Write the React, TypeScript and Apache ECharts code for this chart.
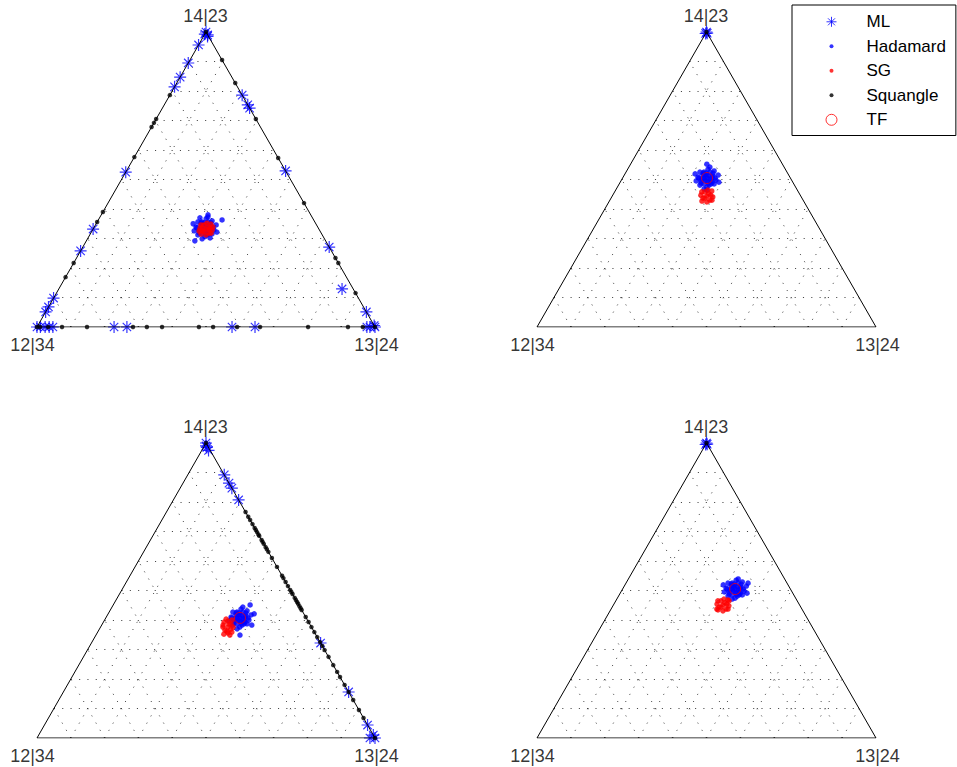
import React, { useEffect, useRef } from "react";
import * as echarts from "echarts";

// Ternary points are [share of 13|24, share of 14|23]; share of 12|34 = 1 - both.
const vertexLabels = ["12|34", "13|24", "14|23"];
const seriesNames = ["ML", "Hadamard", "SG", "Squangle", "TF"];

// ---------- Panel 1 ----------
const mlP1 = [
  [0, 1], [0, 0.993], [0.01, 0.99], [0.012, 0.985], [0, 0.956], [0, 0.895], [0, 0.847], [0, 0.814],
  [0, 0.525], [0, 0.332], [0, 0.258], [0, 0.098], [0, 0.068], [0, 0.051], [0, 0], [0.01, 0],
  [0.024, 0], [0.036, 0], [0.047, 0], [0.228, 0], [0.266, 0], [0.577, 0], [0.645, 0], [0.976, 0],
  [0.985, 0], [1, 0], [0.995, 0.005], [0.214, 0.786], [0.247, 0.753], [0.258, 0.742], [0.471, 0.529],
  [0.729, 0.271], [0.949, 0.051], [0.838, 0.129],
];
const hadamardP1 = [
  [0.329, 0.336], [0.316, 0.326], [0.343, 0.343], [0.31, 0.356], [0.351, 0.316], [0.301, 0.339],
  [0.359, 0.329], [0.344, 0.306], [0.317, 0.367], [0.32, 0.312], [0.338, 0.36], [0.298, 0.356],
  [0.36, 0.316], [0.302, 0.326], [0.357, 0.346], [0.339, 0.299], [0.319, 0.373], [0.312, 0.346],
  [0.346, 0.326], [0.321, 0.292], [0.366, 0.363], [0.316, 0.38], [0.287, 0.35], [0.371, 0.322],
  [0.361, 0.302], [0.297, 0.37],
  [0.327, 0.329], [0.332, 0.343], [0.318, 0.346], [0.34, 0.333], [0.32, 0.336], [0.324, 0.346],
  [0.334, 0.326], [0.342, 0.339], [0.316, 0.333], [0.341, 0.319], [0.318, 0.353], [0.351, 0.322],
  [0.309, 0.353], [0.338, 0.353], [0.32, 0.319], [0.328, 0.356], [0.33, 0.316], [0.353, 0.336],
  [0.305, 0.336], [0.347, 0.312],
];
const sgP1 = [
  [0.334, 0.332], [0.326, 0.325], [0.344, 0.335], [0.321, 0.346], [0.35, 0.318], [0.315, 0.335],
  [0.354, 0.329], [0.344, 0.312], [0.327, 0.352], [0.328, 0.315], [0.34, 0.349], [0.312, 0.346],
  [0.356, 0.318], [0.332, 0.325], [0.336, 0.339], [0.323, 0.335], [0.345, 0.329], [0.351, 0.339],
  [0.317, 0.325],
];
const squangleP1 = [
  [0, 1], [0, 0.786], [0, 0.705], [0, 0.692], [0, 0.678], [0, 0.576], [0, 0.39], [0, 0.356], [0, 0.217],
  [0, 0.169], [0.095, 0.905], [0.173, 0.827], [0.295, 0.705], [0.427, 0.573], [0.58, 0.42], [0.766, 0.234],
  [0.783, 0.217], [0.885, 0.115], [0, 0], [0.009, 0], [0.033, 0], [0.074, 0], [0.148, 0], [0.284, 0],
  [0.325, 0], [0.37, 0], [0.479, 0], [0.521, 0], [0.592, 0], [0.66, 0], [0.802, 0], [0.92, 0], [0.964, 0], [1, 0],
];
const tfP1 = [[0.333, 0.333]];

// ---------- Panel 2 ----------
const mlP2 = [[0, 1], [0.004, 0.996], [0, 0.995]];
const hadamardP2 = [
  [0.249, 0.505], [0.236, 0.495], [0.263, 0.512], [0.23, 0.525], [0.271, 0.485], [0.221, 0.508],
  [0.279, 0.498], [0.264, 0.474], [0.237, 0.535], [0.24, 0.481], [0.258, 0.529], [0.218, 0.525],
  [0.28, 0.485], [0.222, 0.495], [0.277, 0.515], [0.259, 0.468], [0.239, 0.542], [0.225, 0.552],
  [0.269, 0.464], [0.207, 0.519], [0.291, 0.491], [0.232, 0.515], [0.266, 0.495],
  [0.247, 0.498], [0.252, 0.512], [0.238, 0.515], [0.26, 0.502], [0.24, 0.505], [0.244, 0.515],
  [0.254, 0.495], [0.262, 0.508], [0.236, 0.502], [0.261, 0.488], [0.238, 0.522], [0.271, 0.491],
  [0.229, 0.522], [0.258, 0.522], [0.24, 0.488], [0.248, 0.525], [0.25, 0.485], [0.273, 0.505],
  [0.225, 0.505], [0.267, 0.481],
];
const sgP2 = [
  [0.279, 0.444], [0.271, 0.437], [0.289, 0.447], [0.266, 0.458], [0.295, 0.43], [0.26, 0.447],
  [0.298, 0.441], [0.289, 0.424], [0.272, 0.464], [0.273, 0.427], [0.285, 0.461], [0.257, 0.458],
  [0.301, 0.43], [0.277, 0.437], [0.281, 0.451],
];
const squangleP2 = [[0, 1]];
const tfP2 = [[0.249, 0.505]];

// ---------- Panel 3 ----------
const mlP3 = [
  [0, 1], [0.01, 0.985], [0.005, 0.99], [0.02, 0.975], [0.108, 0.892], [0.136, 0.864], [0.153, 0.847],
  [0.193, 0.807], [0.678, 0.322], [0.844, 0.156], [0.956, 0.044], [0.99, 0.01], [1, 0], [0.985, 0],
];
const hadamardP3 = [
  [0.397, 0.407], [0.384, 0.397], [0.411, 0.414], [0.378, 0.427], [0.419, 0.387], [0.369, 0.41],
  [0.427, 0.4], [0.412, 0.376], [0.385, 0.437], [0.388, 0.383], [0.406, 0.431], [0.366, 0.427],
  [0.428, 0.387], [0.37, 0.397], [0.425, 0.417], [0.407, 0.37], [0.387, 0.444], [0.405, 0.451],
  [0.426, 0.349], [0.444, 0.383], [0.38, 0.417], [0.414, 0.397], [0.432, 0.421],
  [0.395, 0.4], [0.4, 0.414], [0.386, 0.417], [0.408, 0.404], [0.388, 0.407], [0.392, 0.417],
  [0.402, 0.397], [0.41, 0.41], [0.384, 0.404], [0.409, 0.39], [0.386, 0.424], [0.419, 0.393],
  [0.377, 0.424], [0.406, 0.424], [0.388, 0.39], [0.396, 0.427], [0.398, 0.387], [0.421, 0.407],
  [0.373, 0.407], [0.415, 0.383],
];
const sgP3 = [
  [0.377, 0.376], [0.373, 0.366], [0.381, 0.386], [0.357, 0.393], [0.397, 0.359], [0.358, 0.403],
  [0.396, 0.349], [0.367, 0.396], [0.387, 0.356], [0.362, 0.376], [0.392, 0.376], [0.377, 0.352],
  [0.377, 0.4], [0.359, 0.383], [0.389, 0.369], [0.375, 0.386], [0.381, 0.362],
];
const squangleP3 = [
  [0, 1], [0.234, 0.766], [0.25, 0.75], [0.261, 0.739], [0.275, 0.725], [0.288, 0.712], [0.295, 0.705],
  [0.302, 0.698], [0.31, 0.69], [0.315, 0.685], [0.329, 0.671], [0.335, 0.665], [0.342, 0.658], [0.353, 0.647],
  [0.36, 0.64], [0.369, 0.631], [0.39, 0.61], [0.42, 0.58], [0.45, 0.55], [0.458, 0.542], [0.471, 0.529],
  [0.485, 0.515], [0.498, 0.502], [0.505, 0.495], [0.512, 0.488], [0.525, 0.475], [0.532, 0.468],
  [0.539, 0.461], [0.545, 0.455], [0.553, 0.447], [0.56, 0.44], [0.566, 0.434], [0.59, 0.41], [0.607, 0.393],
  [0.624, 0.376], [0.641, 0.359], [0.658, 0.342], [0.675, 0.325], [0.688, 0.312], [0.702, 0.298],
  [0.725, 0.275], [0.753, 0.247], [0.776, 0.224], [0.793, 0.207], [0.82, 0.18], [0.844, 0.156],
  [0.871, 0.129], [0.905, 0.095], [0.932, 0.068], [1, 0],
];
const tfP3 = [[0.397, 0.407]];

// ---------- Panel 4 ----------
const mlP4 = [[0, 1], [0.004, 0.996], [0, 0.995]];
const hadamardP4 = [
  [0.332, 0.505], [0.319, 0.495], [0.346, 0.512], [0.313, 0.525], [0.354, 0.485], [0.304, 0.508],
  [0.362, 0.498], [0.347, 0.474], [0.32, 0.535], [0.323, 0.481], [0.341, 0.529], [0.301, 0.525],
  [0.363, 0.485], [0.305, 0.495], [0.36, 0.515], [0.34, 0.471], [0.324, 0.539], [0.36, 0.525],
  [0.29, 0.519], [0.374, 0.491], [0.315, 0.515], [0.349, 0.495],
  [0.33, 0.498], [0.335, 0.512], [0.321, 0.515], [0.343, 0.502], [0.323, 0.505], [0.327, 0.515],
  [0.337, 0.495], [0.345, 0.508], [0.319, 0.502], [0.344, 0.488], [0.321, 0.522], [0.354, 0.491],
  [0.312, 0.522], [0.341, 0.522], [0.323, 0.488], [0.331, 0.525], [0.333, 0.485], [0.356, 0.505],
  [0.308, 0.505], [0.35, 0.481],
];
const sgP4 = [
  [0.323, 0.451], [0.315, 0.444], [0.333, 0.454], [0.31, 0.465], [0.339, 0.437], [0.304, 0.454],
  [0.342, 0.448], [0.333, 0.431], [0.316, 0.471], [0.317, 0.434], [0.329, 0.468], [0.301, 0.465],
  [0.345, 0.437], [0.321, 0.444], [0.325, 0.458], [0.334, 0.465], [0.312, 0.437],
];
const squangleP4 = [[0, 1]];
const tfP4 = [[0.332, 0.505]];

const panelData = [
  [mlP1, hadamardP1, sgP1, squangleP1, tfP1],
  [mlP2, hadamardP2, sgP2, squangleP2, tfP2],
  [mlP3, hadamardP3, sgP3, squangleP3, tfP3],
  [mlP4, hadamardP4, sgP4, squangleP4, tfP4],
];

const panelBoxes = [
  { left: 37, top: 32, width: 338, height: 295 },
  { left: 537, top: 32, width: 339, height: 295 },
  { left: 37, top: 443, width: 338, height: 295 },
  { left: 537, top: 443, width: 339, height: 295 },
];

const FONT = 'Arial, "Liberation Sans", Helvetica, sans-serif';
const BLUE = "#0000ff";
const RED = "#ff0000";

const toXY = (p: number[]) => [p[0] + p[1] / 2, p[1]];

const STAR = "path://M0,-5L0,5M-5,0L5,0M-3.5,-3.5L3.5,3.5M-3.5,3.5L3.5,-3.5";

const seriesStyles = [
  { symbol: STAR, symbolSize: 12, itemStyle: { color: BLUE, borderColor: BLUE, borderWidth: 1.2 } },
  { symbol: "circle", symbolSize: 5.5, itemStyle: { color: BLUE } },
  { symbol: "circle", symbolSize: 5.5, itemStyle: { color: RED } },
  { symbol: "circle", symbolSize: 4.5, itemStyle: { color: "#000" } },
  { symbol: "circle", symbolSize: 11, itemStyle: { color: "rgba(0,0,0,0)", borderColor: RED, borderWidth: 1 } },
];

const legendIcons = [
  "path://M0,0M44,14M14,2L14,12M9,7L19,7M10.5,3.5L17.5,10.5M10.5,10.5L17.5,3.5",
  "path://M0,0M44,14M16,7A2,2,0,1,1,12,7A2,2,0,1,1,16,7Z",
  "path://M0,0M44,14M16,7A2,2,0,1,1,12,7A2,2,0,1,1,16,7Z",
  "path://M0,0M44,14M16,7A2,2,0,1,1,12,7A2,2,0,1,1,16,7Z",
  "path://M0,0M44,14M19.5,7A5.5,5.5,0,1,1,8.5,7A5.5,5.5,0,1,1,19.5,7Z",
];

function gridSegments() {
  const segs: any[] = [];
  for (let i = 1; i < 10; i++) {
    const t = i / 10;
    segs.push({ coords: [toXY([0, t]), toXY([1 - t, t])] });
    segs.push({ coords: [toXY([t, 0]), toXY([t, 1 - t])] });
    segs.push({ coords: [toXY([1 - t, 0]), toXY([0, 1 - t])] });
  }
  return segs;
}

function buildOption() {
  const grid: any[] = [];
  const xAxis: any[] = [];
  const yAxis: any[] = [];
  const series: any[] = [];
  panelBoxes.forEach((b, k) => {
    grid.push({ left: b.left, top: b.top, width: b.width, height: b.height, containLabel: false });
    xAxis.push({ type: "value", gridIndex: k, min: 0, max: 1, show: false });
    yAxis.push({ type: "value", gridIndex: k, min: 0, max: 1, show: false });
    series.push({
      type: "lines",
      name: "grid" + k,
      coordinateSystem: "cartesian2d",
      xAxisIndex: k,
      yAxisIndex: k,
      silent: true,
      polyline: false,
      lineStyle: { color: "#333", width: 0.9, type: [1.1, 7.2], opacity: 1, curveness: 0 },
      data: gridSegments(),
    });
    series.push({
      type: "line",
      name: "frame" + k,
      xAxisIndex: k,
      yAxisIndex: k,
      silent: true,
      symbol: "none",
      lineStyle: { color: "#000", width: 1 },
      data: [toXY([0, 0]), toXY([1, 0]), toXY([0, 1]), toXY([0, 0])],
    });
    panelData[k].forEach((pts, s) => {
      series.push({
        type: "scatter",
        name: seriesNames[s],
        xAxisIndex: k,
        yAxisIndex: k,
        clip: false,
        silent: true,
        ...seriesStyles[s],
        data: pts.map(toXY),
      });
    });
    const offsets = [[-4, 18], [2, 18], [0, -16]];
    const vtx = [[0, 0], [1, 0], [0, 1]];
    series.push({
      type: "scatter",
      name: "labels" + k,
      xAxisIndex: k,
      yAxisIndex: k,
      clip: false,
      silent: true,
      symbolSize: 1,
      itemStyle: { color: "rgba(0,0,0,0)" },
      data: vertexLabels.map((txt, i) => ({
        value: toXY(vtx[i]),
        label: {
          show: true,
          formatter: txt,
          position: [0, 0],
          offset: offsets[i],
          align: "center",
          verticalAlign: "middle",
          fontSize: 18,
          fontFamily: FONT,
          color: "#000",
        },
      })),
    });
  });

  return {
    animation: false,
    backgroundColor: "#fff",
    grid,
    xAxis,
    yAxis,
    legend: {
      data: seriesNames.map((n, i) => ({
        name: n,
        icon: legendIcons[i],
        itemStyle: seriesStyles[i].itemStyle.borderColor
          ? { ...seriesStyles[i].itemStyle, borderWidth: 1 }
          : { ...seriesStyles[i].itemStyle, borderWidth: 0 },
      })),
      orient: "vertical",
      left: 792,
      top: 5,
      itemWidth: 44,
      itemHeight: 14,
      itemGap: 7.5,
      padding: [8.3, 10, 7.2, 25],
      backgroundColor: "#fff",
      borderColor: "#000",
      borderWidth: 1,
      borderRadius: 0,
      selectedMode: false,
      textStyle: { fontSize: 17, fontFamily: FONT, color: "#000", lineHeight: 14 },
    },
    series,
  };
}

export default function App() {
  const ref = useRef<HTMLDivElement>(null);
  useEffect(() => {
    if (!ref.current) return;
    const chart = echarts.init(ref.current, null, { renderer: "svg" });
    chart.setOption(buildOption() as any);
    return () => chart.dispose();
  }, []);
  return (
    <div
      ref={ref}
      style={{ position: "absolute", left: 0, top: 0, width: 957, height: 767, background: "#fff" }}
    />
  );
}
